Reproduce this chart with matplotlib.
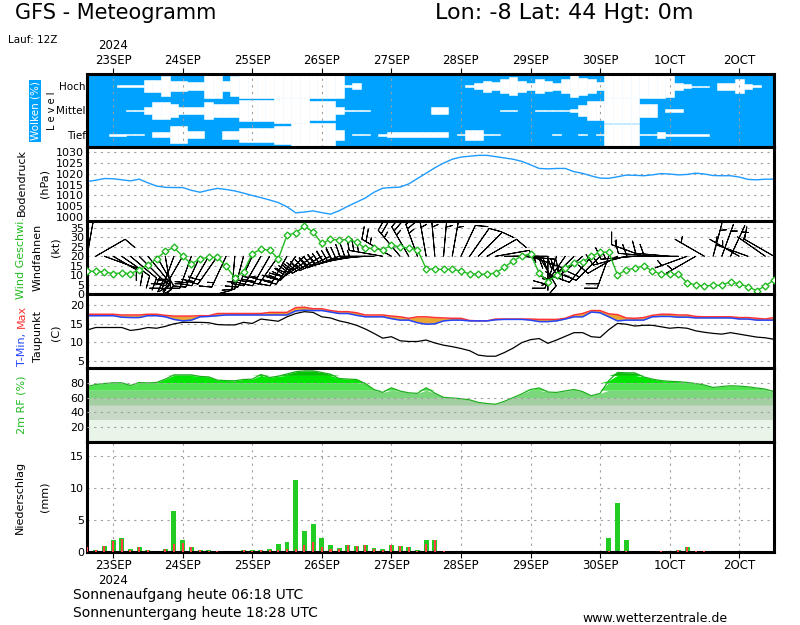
import numpy as np
import matplotlib
matplotlib.use("Agg")
import matplotlib.pyplot as plt

# forecast steps: hours after 23SEP 00Z (run 22SEP 12Z)
hours = list(range(-9, 229, 3))
day_ticks = [0, 24, 48, 72, 96, 120, 144, 168, 192, 216]
day_names = ["23SEP", "24SEP", "25SEP", "26SEP", "27SEP", "28SEP", "29SEP", "30SEP", "1OCT", "2OCT"]

cloud_high = [0, 0, 0, 0, 8, 8, 8, 50, 50, 80,
              40, 40, 35, 35, 100, 100, 40, 80, 100, 100,
              100, 100, 100, 100, 100, 100, 100, 100, 100, 100,
              10, 25, 0, 0, 0, 0, 0, 0, 0, 0,
              0, 0, 0, 0, 8, 25, 45, 35, 55, 75,
              45, 30, 55, 40, 30, 55, 90, 70, 55, 35,
              100, 100, 100, 100, 100, 100, 100, 90, 30, 15,
              5, 5, 0, 30, 30, 55, 20, 10, 0, 0]
cloud_mid = [0, 0, 0, 0, 0, 5, 5, 30, 70, 70,
             55, 30, 30, 30, 70, 55, 55, 55, 90, 90,
             90, 90, 100, 100, 100, 100, 75, 75, 75, 30,
             8, 8, 8, 0, 0, 0, 0, 0, 0, 0,
             28, 28, 0, 0, 0, 0, 0, 0, 5, 5,
             0, 0, 5, 5, 5, 5, 15, 45, 75, 75,
             100, 100, 100, 100, 50, 50, 0, 15, 15, 0,
             0, 0, 0, 0, 0, 0, 0, 0, 0, 0]
cloud_low = [0, 0, 0, 10, 10, 5, 5, 0, 20, 20,
             70, 70, 30, 30, 0, 0, 35, 35, 55, 55,
             55, 55, 75, 75, 100, 100, 100, 100, 100, 40,
             0, 5, 5, 0, 8, 20, 20, 20, 20, 20,
             20, 20, 0, 5, 40, 40, 5, 5, 0, 0,
             0, 0, 0, 0, 5, 0, 0, 5, 0, 5,
             90, 90, 90, 90, 5, 5, 25, 10, 10, 10,
             10, 10, 0, 0, 0, 0, 0, 0, 0, 0]

pressure = [1016.4, 1017.0, 1017.8, 1017.7, 1017.2, 1016.7, 1017.5, 1015.8, 1014.3, 1013.7,
            1013.6, 1013.6, 1012.3, 1011.4, 1012.4, 1013.2, 1012.7, 1012.0, 1011.0, 1009.9,
            1008.9, 1007.8, 1006.6, 1004.6, 1001.8, 1002.2, 1002.7, 1001.9, 1001.2, 1002.8,
            1004.9, 1006.8, 1008.7, 1011.4, 1013.3, 1013.6, 1013.8, 1015.3, 1017.8, 1020.3,
            1022.8, 1025.0, 1026.8, 1027.8, 1028.2, 1028.6, 1028.6, 1028.0, 1027.4, 1026.8,
            1025.8, 1024.2, 1022.5, 1022.3, 1022.5, 1022.5, 1021.0, 1020.2, 1019.0, 1018.0,
            1017.9, 1018.6, 1019.4, 1019.3, 1019.1, 1019.5, 1020.1, 1019.9, 1019.5, 1019.7,
            1020.3, 1019.9, 1019.2, 1019.1, 1019.1, 1018.5, 1017.4, 1017.2, 1017.5, 1017.5]

wind_speed = [12.0, 12.0, 11.7, 10.8, 11.1, 10.8, 12.9, 15.2, 18.7, 22.6,
              24.7, 20.0, 16.0, 18.7, 19.4, 19.4, 14.7, 8.5, 11.7, 21.4,
              23.7, 23.3, 18.7, 31.1, 32.5, 35.9, 32.9, 26.8, 29.0, 28.6,
              28.9, 27.5, 24.2, 24.2, 23.5, 25.8, 25.0, 24.4, 23.5, 13.4,
              13.1, 13.0, 13.1, 12.2, 10.6, 10.6, 10.4, 11.2, 14.2, 17.6,
              20.1, 21.2, 11.0, 6.6, 10.1, 14.0, 16.3, 17.2, 19.9, 22.2,
              22.2, 10.1, 12.8, 13.7, 14.9, 12.3, 10.5, 10.5, 10.5, 6.0,
              4.8, 4.3, 4.6, 4.6, 6.6, 5.3, 3.9, 1.8, 4.3, 7.5]
# direction the wind comes from, degrees
wind_dir = [10, 60, 110, 120, 125, 130, 135, 140, 150, 170,
            200, 210, 200, 205, 210, 215, 205, 185, 195, 205,
            210, 210, 215, 210, 215, 225, 235, 240, 245, 250,
            255, 260, 265, 270, 280, 300, 320, 330, 340, 350,
            355, 5, 10, 25, 35, 45, 60, 80, 90, 90,
            95, 110, 150, 180, 200, 215, 225, 230, 220, 225,
            200, 240, 255, 265, 290, 275, 270, 275, 270, 250,
            240, 300, 15, 20, 25, 300, 290, 310, 305, 300]
barb_level = 20

t_max = [17.6, 17.6, 17.6, 17.6, 17.4, 17.4, 17.4, 17.6, 17.6, 17.3,
         17.1, 17.1, 17.1, 17.2, 17.2, 17.8, 17.8, 17.8, 17.8, 17.8,
         17.8, 18.1, 18.1, 18.1, 19.4, 19.5, 19.1, 19.1, 18.6, 18.3,
         18.3, 18.0, 17.4, 17.4, 17.4, 17.1, 16.9, 16.5, 16.9, 16.9,
         16.7, 16.6, 16.5, 16.5, 15.9, 15.8, 15.8, 16.3, 16.3, 16.3,
         16.3, 16.3, 16.2, 16.2, 16.2, 16.5, 17.4, 17.8, 18.6, 18.6,
         17.7, 17.5, 16.6, 16.5, 16.7, 17.3, 17.6, 17.6, 17.4, 17.4,
         17.0, 16.9, 16.9, 16.9, 16.9, 16.7, 16.7, 16.5, 16.3, 16.7]
t_min = [17.2, 17.2, 17.2, 17.2, 16.8, 16.7, 16.7, 17.2, 17.2, 16.9,
         16.2, 15.8, 16.0, 16.9, 17.0, 17.2, 17.4, 17.4, 17.4, 17.4,
         17.4, 17.4, 17.4, 17.4, 18.5, 18.7, 18.6, 18.6, 18.2, 17.8,
         17.8, 17.3, 16.9, 16.9, 16.9, 16.4, 16.0, 16.0, 15.3, 14.9,
         15.0, 15.8, 16.0, 16.0, 15.8, 15.8, 15.8, 16.1, 16.2, 16.2,
         16.2, 16.0, 15.6, 15.6, 15.8, 16.3, 16.9, 16.9, 18.2, 18.0,
         16.9, 15.8, 16.0, 16.0, 16.0, 16.9, 17.0, 17.0, 16.8, 16.8,
         16.6, 16.6, 16.6, 16.6, 16.6, 16.3, 16.3, 16.0, 16.0, 16.0]
dewpoint = [13.3, 14.0, 14.0, 14.0, 14.0, 13.2, 13.5, 14.0, 13.8, 14.3,
            15.0, 15.4, 15.4, 15.4, 15.3, 14.8, 14.7, 14.7, 15.4, 15.1,
            16.3, 16.0, 15.7, 16.9, 17.8, 18.3, 18.1, 16.9, 16.6, 15.8,
            15.3, 14.6, 13.6, 12.4, 11.1, 11.5, 10.4, 10.2, 10.2, 10.6,
            9.8, 9.2, 8.8, 8.3, 7.7, 6.5, 6.2, 6.2, 7.2, 8.4,
            9.9, 10.7, 11.0, 9.7, 10.6, 11.6, 12.6, 12.6, 11.5, 11.3,
            13.4, 15.1, 14.9, 14.4, 14.6, 14.6, 14.2, 13.8, 14.0, 13.8,
            13.1, 12.7, 12.4, 12.2, 12.6, 12.2, 11.8, 11.4, 11.2, 10.8]

rel_hum = [74.6, 77.8, 79.0, 80.0, 80.0, 76.4, 80.4, 79.8, 80.5, 85.0,
           90.7, 90.7, 90.7, 88.6, 88.0, 83.6, 83.0, 82.7, 84.5, 84.9,
           91.2, 87.2, 89.0, 92.0, 95.0, 96.1, 96.1, 94.0, 91.6, 85.8,
           85.0, 84.5, 79.0, 71.0, 67.0, 73.3, 68.8, 66.5, 65.7, 73.3,
           66.0, 60.3, 59.5, 58.5, 57.0, 53.5, 52.0, 51.0, 55.0, 60.0,
           65.0, 71.0, 73.0, 67.5, 67.0, 69.0, 71.0, 68.0, 62.5, 65.7,
           83.0, 93.9, 93.6, 93.4, 88.0, 85.0, 83.0, 82.0, 81.5, 80.5,
           79.0, 77.0, 73.7, 75.0, 76.0, 75.5, 74.6, 73.0, 71.5, 68.0]
rh_bands = [0, 30, 50, 60, 70, 80, 90, 100]
rh_colors = ['#eaf5ea', '#c8d9c8', '#a2cea2', '#7bd77b', '#50e150', '#00e600', '#00c200']

precip = [0.8, 0.3, 1.0, 1.8, 2.1, 0.5, 0.8, 0.35, 0.1, 0.4,
          6.3, 1.8, 0.7, 0.35, 0.35, 0.1, 0.0, 0.0, 0.35, 0.3,
          0.35, 0.5, 1.3, 1.6, 11.2, 3.3, 4.4, 2.2, 1.1, 0.6,
          1.1, 1.0, 1.1, 0.6, 0.5, 1.1, 1.0, 0.8, 0.35, 1.8,
          1.9, 0.15, 0.05, 0.0, 0.05, 0.0, 0.0, 0.0, 0.0, 0.0,
          0.0, 0.0, 0.0, 0.0, 0.0, 0.0, 0.0, 0.0, 0.0, 0.2,
          2.2, 7.6, 1.8, 0.1, 0.05, 0.05, 0.15, 0.05, 0.35, 0.7,
          0.2, 0.2, 0.0, 0.0, 0.0, 0.0, 0.0, 0.0, 0.0, 0.0]
precip_conv = [0.8, 0.3, 0.9, 1.7, 2.0, 0.3, 0.8, 0.3, 0.0, 0.4,
               1.2, 1.4, 0.7, 0.3, 0.2, 0.1, 0.0, 0.0, 0.35, 0.1,
               0.35, 0.3, 0.3, 0.5, 0.4, 1.1, 1.6, 0.7, 0.5, 0.4,
               1.1, 0.9, 1.1, 0.5, 0.3, 1.1, 1.0, 0.8, 0.2, 1.2,
               1.9, 0.1, 0.05, 0.0, 0.05, 0.0, 0.0, 0.0, 0.0, 0.0,
               0.0, 0.0, 0.0, 0.0, 0.0, 0.0, 0.0, 0.0, 0.0, 0.0,
               0.2, 0.0, 0.2, 0.0, 0.05, 0.05, 0.15, 0.0, 0.3, 0.7,
               0.1, 0.2, 0.0, 0.0, 0.0, 0.0, 0.0, 0.0, 0.0, 0.0]

W, H = 800, 625
fig = plt.figure(figsize=(W / 100, H / 100), dpi=100)
grid = dict(color='#a0a0a0', linestyle=(0, (2, 4)), linewidth=0.8)


def panel(top, bottom):
    ax = fig.add_axes([87 / W, 1 - bottom / H, 687 / W, (bottom - top) / H])
    ax.set_xlim(hours[0], hours[-1])
    ax.set_xticks(day_ticks)
    ax.tick_params(axis='x', length=0, labelbottom=False)
    ax.tick_params(axis='y', length=0, labelsize=8, pad=2)
    for s in ax.spines.values():
        s.set_linewidth(2.2)
    return ax


def label(x, y, txt, color='black', size=8, **kw):
    fig.text(x / W, 1 - y / H, txt, rotation=90, ha='center', va='center',
             color=color, fontsize=size, **kw)


# clouds
ax = panel(74, 147)
ax.set_facecolor('#00a2ff')
for lev, cov in enumerate([cloud_low, cloud_mid, cloud_high]):
    h = np.array(cov) / 100.0
    m = h > 0
    ax.bar(np.array(hours)[m], h[m], width=3, bottom=lev + 0.5 - h[m] / 2,
           color='white', edgecolor='white', linewidth=0.4)
ax.set_ylim(0, 3)
ax.set_yticks([0.5, 1.5, 2.5])
ax.set_yticklabels(['Tief', 'Mittel', 'Hoch'], fontsize=7.5)
ax.tick_params(axis='y', pad=1)
ax.grid(axis='x', **grid)
ax.set_axisbelow(False)
ax.tick_params(axis='x', top=True, labeltop=True, direction='out', length=4,
               pad=1, labelsize=8.5)
ax.set_xticklabels(["2024\n" + day_names[0]] + day_names[1:])
label(35, 111, 'Wolken (%)', color='white', size=7.5,
      bbox=dict(facecolor='#00a2ff', edgecolor='none', pad=1))
label(52, 111, 'L e v e l', size=7)

# pressure
ax = panel(147, 221)
ax.plot(hours, pressure, color='#1e9bff', lw=1)
ax.set_ylim(998, 1032.5)
ax.set_yticks(range(1000, 1031, 5))
ax.grid(axis='y', **grid)
label(22, 182, 'Bodendruck')
label(45, 184, '(hPa)')

# wind
ax = panel(221, 294)
d = np.radians(wind_dir)
s = np.array(wind_speed)
ax.barbs(hours, [barb_level] * len(hours), -s * np.sin(d), -s * np.cos(d),
         length=7, linewidth=0.7, color='black', pivot='tip',
         sizes=dict(emptybarb=0, height=0.35, spacing=0.14), zorder=2)
ax.plot(hours, wind_speed, color='#22bb22', lw=1, marker='D', ms=3.5,
        mfc='white', mec='#22bb22', mew=1, zorder=3)
ax.set_ylim(0, 38.7)
ax.set_yticks(range(0, 36, 5))
ax.grid(axis='y', **grid)
label(21, 258, 'Wind Geschwi.', color='#22bb22')
label(38, 257, 'Windfahnen')
label(55, 247, '(kt)')

# temperature
ax = panel(294, 368)
ax.fill_between(hours, t_min, t_max, color='#e8a735', lw=0)
ax.plot(hours, t_max, color='#ff3333', lw=1.1)
ax.plot(hours, t_min, color='#2244ff', lw=1.1)
ax.plot(hours, dewpoint, color='black', lw=0.9)
ax.set_ylim(3, 23.1)
ax.set_yticks([5, 10, 15, 20])
ax.grid(axis='y', **grid)
label(22, 349, 'T-Min,', color='#2244ff')
label(22, 316, 'Max', color='#ff3333')
label(38, 337, 'Taupunkt')
label(55, 333, '(C)')

# relative humidity
ax = panel(368, 442)
rh = np.array(rel_hum)
for lo, hi, c in zip(rh_bands[:-1], rh_bands[1:], rh_colors):
    ax.fill_between(hours, lo, np.clip(rh, lo, hi), color=c, lw=0)
ax.plot(hours, rh, color='#1fae1f', lw=0.9)
ax.set_ylim(0, 100)
ax.set_yticks([20, 40, 60, 80])
ax.grid(axis='y', **grid)
ax.set_axisbelow(False)
label(22, 405, '2m RF (%)', color='#22bb22')

# precipitation
ax = panel(442, 552)
ax.bar(hours, precip, width=1.7, color='#22cc22', lw=0, zorder=2)
ax.bar(hours, precip_conv, width=0.7, color='#ff4040', lw=0, zorder=3)
ax.set_ylim(0, 17.1)
ax.set_yticks([0, 5, 10, 15])
ax.grid(**grid)
ax.tick_params(axis='x', bottom=True, labelbottom=True, direction='out',
               length=4, pad=1, labelsize=8.5)
ax.set_xticklabels([day_names[0] + "\n2024"] + day_names[1:])
label(20, 497, 'Niederschlag')
label(45, 497, '(mm)')

fig.text(15 / W, 1 - 13 / H, 'GFS - Meteogramm', fontsize=15, va='center')
fig.text(435 / W, 1 - 13 / H, 'Lon: -8 Lat: 44 Hgt: 0m', fontsize=16, va='center')
fig.text(8 / W, 1 - 40 / H, 'Lauf: 12Z', fontsize=7.5, va='center')
fig.text(73 / W, 1 - 595 / H, 'Sonnenaufgang heute 06:18 UTC', fontsize=10, va='center')
fig.text(73 / W, 1 - 613 / H, 'Sonnenuntergang heute 18:28 UTC', fontsize=10, va='center')
fig.text(582 / W, 1 - 618 / H, 'www.wetterzentrale.de', fontsize=9, va='center')

fig.savefig('out.png', dpi=100)
